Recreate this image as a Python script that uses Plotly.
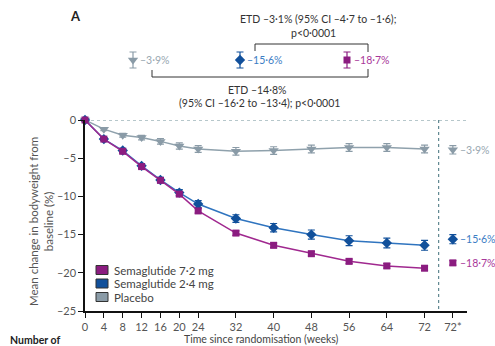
import plotly.graph_objects as go

# ---------------- data ----------------
weeks = [0, 4, 8, 12, 16, 20, 24, 32, 40, 48, 56, 64, 72]
tick_vals = [0, 4, 8, 12, 16, 20, 24, 32, 40, 48, 56, 64, 72, 78]
tick_text = ["0", "4", "8", "12", "16", "20", "24", "32", "40", "48", "56", "64", "72", "72*"]
y_tick_vals = [0, -5, -10, -15, -20, -25]
y_tick_text = ["0", "–5", "–10", "–15", "–20", "–25"]

series_names = ["Semaglutide 7·2 mg", "Semaglutide 2·4 mg", "Placebo"]
sema72 = [0, -2.5, -4.1, -6.1, -7.9, -9.7, -11.9, -14.8, -16.4, -17.5, -18.5, -19.1, -19.4]
sema72_err = [0, 0.15, 0.2, 0.2, 0.25, 0.25, 0.3, 0.3, 0.3, 0.3, 0.3, 0.3, 0.3]
sema24 = [0, -2.5, -4.0, -6.0, -7.85, -9.5, -11.0, -12.9, -14.1, -15.0, -15.8, -16.1, -16.4]
sema24_err = [0, 0.2, 0.3, 0.3, 0.35, 0.4, 0.45, 0.5, 0.55, 0.6, 0.65, 0.65, 0.65]
placebo = [0, -1.2, -2.0, -2.3, -2.8, -3.4, -3.8, -4.1, -4.0, -3.8, -3.6, -3.6, -3.8]
placebo_err = [0, 0.2, 0.25, 0.3, 0.35, 0.4, 0.45, 0.5, 0.5, 0.5, 0.5, 0.5, 0.5]

final_week = 78  # plotted at "72*"
final_vals = [-18.7, -15.6, -3.9]
final_err = [0.3, 0.6, 0.55]
final_labels = ["–18·7%", "–15·6%", "–3·9%"]

etd_top = ["ETD –3·1% (95% CI –4·7 to –1·6);", "p<0·0001"]
etd_bottom = ["ETD –14·8%", "(95% CI –16·2 to –13·4); p<0·0001"]

# ---------------- styles ----------------
line_cols = ["#a0288f", "#2f74bf", "#8fa1ac"]
mark_cols = ["#8b1c80", "#11509b", "#8a9ba7"]
label_cols = ["#a8379a", "#3b7dc4", "#98a7b1"]
symbols = ["square", "diamond", "triangle-down"]
msizes = [7, 8, 9]
FONT = "Lato"
FS = 10.5

W, H = 495, 346
L, R, TOP, B = 85, 467, 120, 311   # pixel box of the main axes


def px(x):
    return x / W


def py(y):
    return (H - y) / H


def note(x, y, text, size=FS, color="#333333", xanchor="center", angle=0, bold=False):
    fig.add_annotation(x=px(x), y=py(y), xref="paper", yref="paper",
                       text=f"<b>{text}</b>" if bold else text, textangle=angle,
                       showarrow=False, xanchor=xanchor, yanchor="middle",
                       font=dict(family=FONT, size=size, color=color))


fig = go.Figure()

ys = [sema72, sema24, placebo]
errs = [sema72_err, sema24_err, placebo_err]
order = [2, 1, 0]
for i in order:
    fig.add_trace(go.Scatter(
        x=weeks, y=ys[i], mode="lines+markers", name=series_names[i],
        line=dict(color=line_cols[i], width=1.5),
        marker=dict(symbol=symbols[i], size=msizes[i], color=mark_cols[i]),
        error_y=dict(type="data", array=errs[i], color=mark_cols[i], thickness=1.2, width=3.5),
        cliponaxis=False, showlegend=False,
    ))
    fig.add_trace(go.Scatter(
        x=[final_week], y=[final_vals[i]], mode="markers",
        marker=dict(symbol=symbols[i], size=msizes[i], color=mark_cols[i]),
        error_y=dict(type="data", array=[final_err[i]], color=mark_cols[i], thickness=1.2, width=3.5),
        cliponaxis=False, showlegend=False,
    ))
    fig.add_annotation(x=final_week, y=final_vals[i], xref="x", yref="y", text=final_labels[i],
                       showarrow=False, xanchor="left", yanchor="middle", xshift=5,
                       font=dict(family=FONT, size=FS, color=label_cols[i]))

# ---- top summary markers (overlay axis spanning the whole page) ----
top_x_px = [347, 240, 133]
top_y_px = 60
for i in range(3):
    fig.add_trace(go.Scatter(
        x=[px(top_x_px[i])], y=[py(top_y_px)], xaxis="x2", yaxis="y2", mode="markers",
        marker=dict(symbol=symbols[i], size=msizes[i], color=mark_cols[i]),
        error_y=dict(type="data", array=[8 / H], color=mark_cols[i], thickness=1.2, width=3.5),
        cliponaxis=False, showlegend=False,
    ))
    note(top_x_px[i] + 5, top_y_px, final_labels[i], color=label_cols[i], xanchor="left")

# brackets
bcol = "#333333"
fig.add_shape(type="path", xref="paper", yref="paper",
              path=f"M {px(255)} {py(51)} L {px(255)} {py(44)} L {px(368)} {py(44)} L {px(368)} {py(52)}",
              line=dict(color=bcol, width=1))
fig.add_shape(type="path", xref="paper", yref="paper",
              path=f"M {px(152)} {py(70)} L {px(152)} {py(77)} L {px(368)} {py(77)} L {px(368)} {py(69)}",
              line=dict(color=bcol, width=1))
note(318, 19, etd_top[0])
note(313, 33, etd_top[1])
note(257, 90, etd_bottom[0])
note(259, 103, etd_bottom[1])

# panel letter
note(75, 16, "A", size=13, color="#222222", bold=True)

# axis titles
note(41, 222, "Mean change in bodyweight from<br>baseline (%)", size=11.5, color="#555555", angle=-90)
note(261, 339, "Time since randomisation (weeks)", size=10.5, color="#444444")
note(8, 339.5, "Number of", size=10.5, color="#222222", xanchor="left", bold=True)

# legend (manual)
leg_rows = [270, 283.5, 297]
for i in range(3):
    fig.add_shape(type="rect", xref="paper", yref="paper",
                  x0=px(96), x1=px(108), y0=py(leg_rows[i] - 4.5), y1=py(leg_rows[i] + 4.5),
                  fillcolor=mark_cols[i], line=dict(color="#333333", width=1))
    note(112, leg_rows[i], series_names[i], size=11.5, color="#444444", xanchor="left")

# reference lines
fig.add_shape(type="line", xref="x", yref="y", x0=0, x1=81, y0=0, y1=0,
              line=dict(color="#6f8f98", width=1, dash="dot"), layer="below")
fig.add_shape(type="line", xref="x", yref="y", x0=75, x1=75, y0=0, y1=-25,
              line=dict(color="#3f6f7a", width=1, dash="dot"), layer="below")

fig.update_layout(
    width=W, height=H,
    margin=dict(l=0, r=0, t=0, b=0, autoexpand=False),
    paper_bgcolor="white", plot_bgcolor="rgba(0,0,0,0)",
    showlegend=False,
    font=dict(family=FONT, size=FS, color="#555555"),
    xaxis=dict(range=[0, 81], domain=[px(L), px(R)], anchor="y",
               tickvals=tick_vals, ticktext=tick_text,
               showline=True, linecolor="#111111", linewidth=1.5,
               ticks="outside", ticklen=5, tickcolor="#111111", tickwidth=1.2,
               showgrid=False, zeroline=False, automargin=False,
               tickfont=dict(family=FONT, size=11, color="#555555")),
    yaxis=dict(range=[-25, 0], domain=[py(B), py(TOP)], anchor="x",
               tickvals=y_tick_vals, ticktext=y_tick_text,
               showline=True, linecolor="#111111", linewidth=1.5,
               ticks="outside", ticklen=5, tickcolor="#111111", tickwidth=1.2,
               showgrid=False, zeroline=False, automargin=False,
               tickfont=dict(family=FONT, size=11, color="#555555")),
    xaxis2=dict(domain=[0, 1], range=[0, 1], anchor="y2", visible=False),
    yaxis2=dict(domain=[0, 1], range=[0, 1], anchor="x2", visible=False),
)

fig.write_html("out.html")
